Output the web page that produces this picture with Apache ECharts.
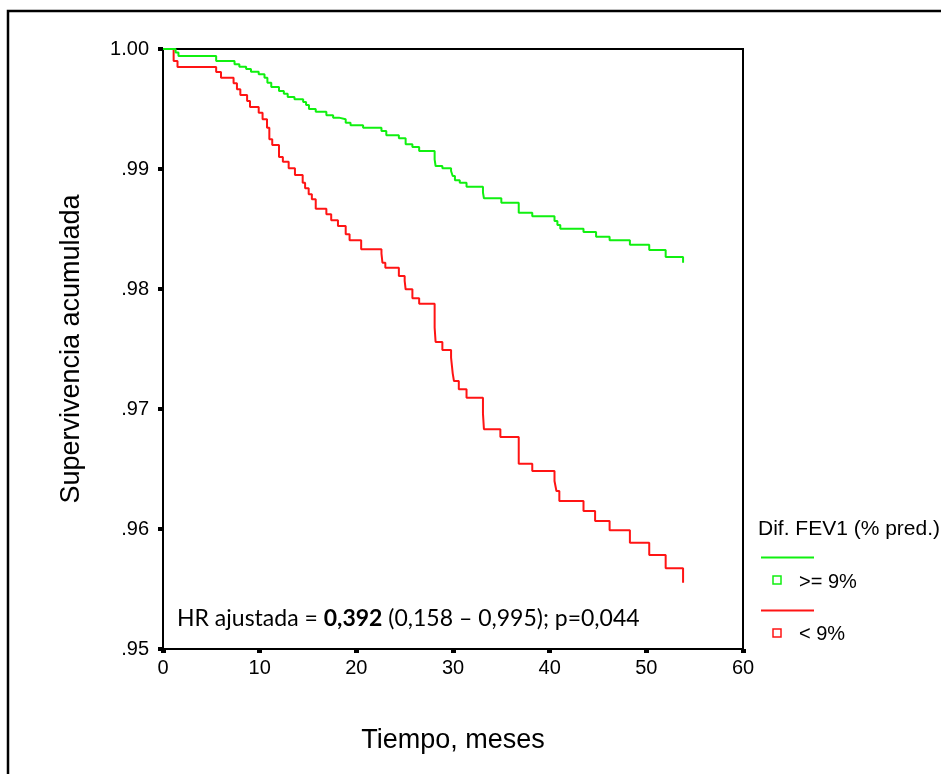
<!DOCTYPE html>
<html>
<head>
<meta charset="utf-8">
<script src="https://cdn.jsdelivr.net/npm/echarts@6/dist/echarts.min.js"></script>
<style>
  html, body { margin: 0; padding: 0; background: #fff; }
  #chart-container { width: 941px; height: 774px; }
</style>
</head>
<body>
<div id="chart-container"></div>
<script>
  // Kaplan-Meier steps: [month, cumulative survival]
  var greenSteps = [
    [0, 1.0], [1.3, 0.9997], [1.6, 0.99942], [5.5, 0.999], [7.4, 0.99872], [7.9, 0.99853],
    [8.6, 0.99833], [9.1, 0.99811], [9.9, 0.99789], [10.5, 0.99761], [10.8, 0.99719],
    [11.2, 0.99683], [12.0, 0.9965], [12.5, 0.99628], [12.9, 0.996], [13.6, 0.99581],
    [14.5, 0.99558], [14.8, 0.99533], [15.1, 0.995], [15.8, 0.99478], [16.9, 0.99447],
    [17.6, 0.99428], [18.2, 0.99414], [18.9, 0.99386], [19.4, 0.99364], [20.7, 0.99344],
    [22.6, 0.99317], [23.1, 0.99281], [24.4, 0.99256], [25.1, 0.99206], [25.8, 0.99183],
    [26.5, 0.9915], [28.1, 0.99081], [28.2, 0.99025], [28.9, 0.99006], [29.8, 0.98983],
    [29.97, 0.98942], [30.2, 0.98906], [30.7, 0.98886], [31.4, 0.98853], [33.1, 0.98803],
    [33.2, 0.98756], [35.0, 0.98719], [36.8, 0.98636], [38.2, 0.98606], [40.5, 0.98567],
    [40.8, 0.98533], [41.1, 0.98503], [43.5, 0.98475], [44.8, 0.98436], [46.2, 0.98406],
    [48.3, 0.98369], [50.3, 0.98325], [52.0, 0.98267], [53.8, 0.98219]
  ];
  var redSteps = [
    [0, 1.0], [1.1, 0.999], [1.5, 0.9985], [5.5, 0.99808], [6.0, 0.99761], [7.3, 0.99714],
    [7.65, 0.99664], [8.0, 0.99617], [8.7, 0.99567], [9.0, 0.99517], [9.9, 0.99469],
    [10.3, 0.99414], [10.76, 0.99344], [11.0, 0.99247], [11.3, 0.992], [12.0, 0.991],
    [12.4, 0.99061], [13.0, 0.99006], [13.65, 0.9895], [14.45, 0.98886], [14.7, 0.98839],
    [15.07, 0.98789], [15.4, 0.98747], [15.8, 0.98669], [16.9, 0.98622], [17.4, 0.98572],
    [18.1, 0.98525], [18.9, 0.98456], [19.3, 0.98406], [20.5, 0.98331], [22.6, 0.98294],
    [22.7, 0.98219], [23.0, 0.98178], [24.4, 0.98108], [25.0, 0.98067], [25.1, 0.97997],
    [25.8, 0.97922], [26.5, 0.97878], [28.1, 0.97678], [28.2, 0.97558], [28.9, 0.97492],
    [29.8, 0.97428], [29.97, 0.97297], [30.1, 0.97233], [30.6, 0.97164], [31.4, 0.97094],
    [33.1, 0.96961], [33.2, 0.96831], [34.9, 0.96767], [36.8, 0.96544], [38.2, 0.96483],
    [40.5, 0.964], [40.7, 0.96317], [41.0, 0.96233], [43.5, 0.9615], [44.7, 0.96067],
    [46.2, 0.95989], [48.3, 0.95886], [50.3, 0.95783], [52.0, 0.95672], [53.8, 0.95553]
  ];
  var seriesNames = ['>= 9%', '< 9%'];
  var seriesColors = ['#10f010', '#ff1414'];
  var legendTitle = 'Dif. FEV1 (% pred.)';
  var xTitle = 'Tiempo, meses';
  var yTitle = 'Supervivencia acumulada';

  var sans = '"Liberation Sans", Arial, sans-serif';

  var dom = document.getElementById('chart-container');
  var myChart = echarts.init(dom, null, { renderer: 'canvas' });

  var option = {
    animation: false,
    backgroundColor: '#fff',
    grid: {
      left: 163, top: 49, width: 580, height: 600,
      show: true, borderColor: '#000', borderWidth: 2
    },
    xAxis: {
      type: 'value', min: 0, max: 60, interval: 10,
      name: xTitle, nameLocation: 'middle', nameGap: 78,
      nameTextStyle: { fontFamily: sans, fontSize: 27, color: '#000' },
      axisLine: { lineStyle: { color: '#000', width: 2 } },
      axisTick: { length: 4, lineStyle: { color: '#000', width: 5 } },
      axisLabel: { margin: 9, fontFamily: sans, fontSize: 20, color: '#000' },
      splitLine: { show: false }
    },
    yAxis: {
      type: 'value', min: 0.95, max: 1.0, interval: 0.01,
      name: yTitle, nameLocation: 'middle', nameGap: 78,
      nameTextStyle: { fontFamily: sans, fontSize: 27, color: '#000' },
      axisLine: { show: true, lineStyle: { color: '#000', width: 2 } },
      axisTick: { show: true, length: 5, lineStyle: { color: '#000', width: 4 } },
      axisLabel: {
        margin: 14, fontFamily: sans, fontSize: 20, color: '#000',
        formatter: function (v) {
          if (v > 0.9999) return '1.00';
          return '.' + Math.round(v * 100);
        }
      },
      splitLine: { show: false }
    },
    series: [
      {
        name: seriesNames[0], type: 'line', step: 'end', data: greenSteps,
        showSymbol: false, lineStyle: { color: seriesColors[0], width: 2 }, z: 3
      },
      {
        name: seriesNames[1], type: 'line', step: 'end', data: redSteps,
        showSymbol: false, lineStyle: { color: seriesColors[1], width: 2 }, z: 2
      }
    ],
    graphic: [
      // outer frame
      { type: 'rect', shape: { x: 8, y: 11, width: 1000, height: 1000 },
        style: { fill: 'none', stroke: '#000', lineWidth: 2.5 }, silent: true },
      // annotation
      { type: 'text', left: 177, top: 607,
        style: {
          text: '{a|HR ajustada = }{b|0,392}{a| (0,158 \u2013 0,995); p=0,044}',
          rich: {
            a: { fontFamily: 'Lato', fontSize: 23, fill: '#000' },
            b: { fontFamily: 'Lato', fontSize: 23, fontWeight: 'bold', fill: '#000' }
          }
        }
      },
      // legend
      { type: 'text', left: 758, top: 519,
        style: { text: legendTitle, fontFamily: sans, fontSize: 21, fill: '#000' } },
      { type: 'line', shape: { x1: 761, y1: 557.5, x2: 814, y2: 557.5 },
        style: { stroke: seriesColors[0], lineWidth: 2 } },
      { type: 'rect', shape: { x: 773, y: 576, width: 8, height: 8 },
        style: { fill: 'none', stroke: seriesColors[0], lineWidth: 1.5 } },
      { type: 'text', left: 799, top: 572,
        style: { text: seriesNames[0], fontFamily: sans, fontSize: 20, fill: '#000' } },
      { type: 'line', shape: { x1: 761, y1: 610.5, x2: 814, y2: 610.5 },
        style: { stroke: seriesColors[1], lineWidth: 2 } },
      { type: 'rect', shape: { x: 773, y: 629, width: 8, height: 8 },
        style: { fill: 'none', stroke: seriesColors[1], lineWidth: 1.5 } },
      { type: 'text', left: 799, top: 624,
        style: { text: seriesNames[1], fontFamily: sans, fontSize: 20, fill: '#000' } }
    ]
  };

  myChart.setOption(option);
</script>
</body>
</html>
